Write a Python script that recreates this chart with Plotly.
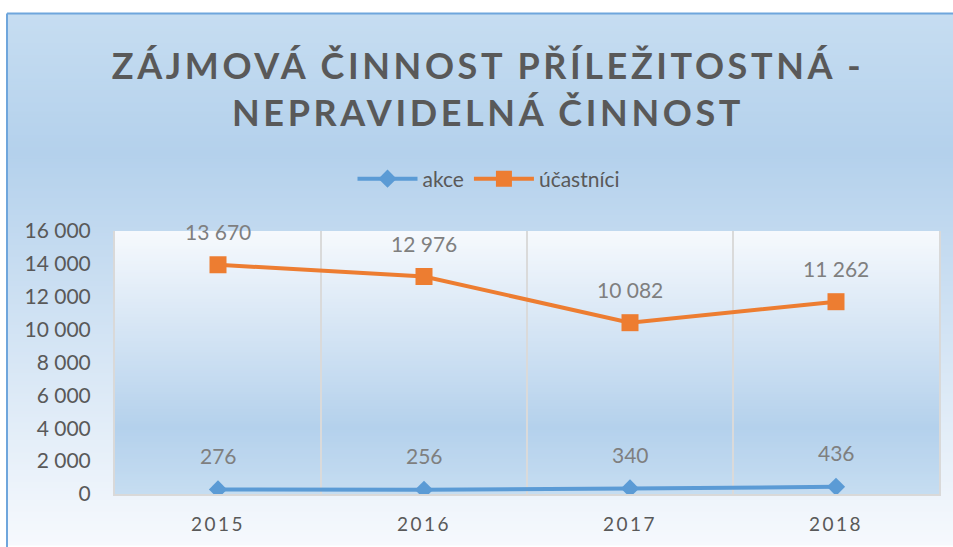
import plotly.graph_objects as go

# ---- data ----
years = ["2015", "2016", "2017", "2018"]
akce = [276, 256, 340, 436]
ucastnici = [13670, 12976, 10082, 11262]
y_ticks = [0, 2000, 4000, 6000, 8000, 10000, 12000, 14000, 16000]

title_text = "ZÁJMOVÁ ČINNOST PŘÍLEŽITOSTNÁ -<br>NEPRAVIDELNÁ ČINNOST"

W, H = 953, 547
L, R, T, B = 115, 939, 231, 497  # plot area in pixels

BLUE = "#5b9bd5"
ORANGE = "#ed7d31"
TXT = "#595959"
LBL = "#7f7f7f"
FONT = "Lato"


def fmt(v):
    return f"{v:,}".replace(",", " ")


def px_x(px):
    return (px - L) / (R - L)


def px_y(py):
    return (B - py) / (B - T)


stops = [(0.0, (246, 249, 253)), (0.74, (180, 209, 236)), (1.0, (198, 221, 241))]


def grad(t):
    for (t0, c0), (t1, c1) in zip(stops[:-1], stops[1:]):
        if t <= t1:
            f = (t - t0) / (t1 - t0)
            return "rgb(%d,%d,%d)" % tuple(round(a + (b - a) * f) for a, b in zip(c0, c1))
    return "rgb(%d,%d,%d)" % stops[-1][1]


shapes = []
# chart (paper) background gradient: darkest near top, lightest at bottom
top_bg, bot_bg = 11, 547
step = 3
y = top_bg
while y < bot_bg:
    t = 1 - (y - top_bg) / (bot_bg - top_bg)
    shapes.append(dict(type="rect", xref="paper", yref="paper", layer="below",
                       x0=px_x(7), x1=px_x(W + 5), y0=px_y(min(y + step + 1, bot_bg + 2)), y1=px_y(y),
                       fillcolor=grad(t), line=dict(width=0)))
    y += step
# plot area gradient: light at top, darker towards bottom
y = T
while y < B:
    t = (y - T) / (B - T)
    shapes.append(dict(type="rect", xref="paper", yref="paper", layer="below",
                       x0=0, x1=1, y0=px_y(min(y + step + 1, B)), y1=px_y(y),
                       fillcolor=grad(t), line=dict(width=0)))
    y += step
# chart border (top and left)
shapes.append(dict(type="line", xref="paper", yref="paper", layer="above",
                   x0=px_x(7), x1=px_x(W + 5), y0=px_y(11), y1=px_y(11),
                   line=dict(color="#6fa6dc", width=2)))
shapes.append(dict(type="line", xref="paper", yref="paper", layer="above",
                   x0=px_x(7), x1=px_x(7), y0=px_y(11), y1=px_y(H + 5),
                   line=dict(color="#6fa6dc", width=2)))

fig = go.Figure()
fig.add_trace(go.Scatter(
    x=years, y=akce, name="akce", mode="lines+markers", stackgroup="one", fill="none",
    line=dict(color=BLUE, width=4), marker=dict(symbol="diamond", size=14, color=BLUE),
))
fig.add_trace(go.Scatter(
    x=years, y=ucastnici, name="účastníci", mode="lines+markers", stackgroup="one", fill="none",
    line=dict(color=ORANGE, width=4), marker=dict(symbol="square", size=17, color=ORANGE),
))

annotations = []
for i, yr in enumerate(years):
    annotations.append(dict(x=i, y=akce[i], text=fmt(akce[i]), showarrow=False,
                            yshift=34, font=dict(family=FONT, size=21, color=LBL)))
    annotations.append(dict(x=i, y=akce[i] + ucastnici[i], text=fmt(ucastnici[i]), showarrow=False,
                            yshift=33, font=dict(family=FONT, size=21, color=LBL)))

fig.update_layout(
    width=W, height=H,
    margin=dict(l=L, r=W - R, t=T, b=H - B, pad=0),
    paper_bgcolor="white",
    plot_bgcolor="rgba(0,0,0,0)",
    separators=", ",
    shapes=shapes,
    annotations=annotations,
    title=dict(text=title_text, x=488 / W, xref="container", xanchor="center",
               y=1 - 79 / H, yref="container", yanchor="middle",
               font=dict(family=FONT, size=36, color=TXT, weight="bold")),
    legend=dict(orientation="h", xref="container", yref="container",
                x=489 / W, xanchor="center", y=1 - 179 / H, yanchor="middle",
                font=dict(family=FONT, size=21, color=TXT), bgcolor="rgba(0,0,0,0)",
                traceorder="normal", itemwidth=60),
    xaxis=dict(type="category", categoryorder="array", categoryarray=years,
               range=[-0.5, 3.5], tickson="boundaries", ticks="",
               showgrid=True, gridcolor="#dadada", gridwidth=1.5,
               showline=True, linecolor="#d9d9d9", linewidth=2,
               tickfont=dict(family=FONT, size=19, color=TXT), ticklabelstandoff=12),
    yaxis=dict(range=[0, 16000], tickvals=y_ticks, tickformat=",d",
               showgrid=False, zeroline=False, ticks="",
               showline=True, mirror=True, linecolor="#d9d9d9", linewidth=2,
               tickfont=dict(family=FONT, size=21, color=TXT), ticklabelstandoff=18),
    showlegend=True,
)

post = """
document.body.style.margin = '0px';
document.body.style.overflow = 'hidden';
var gd = document.getElementById('{plot_id}');
function sp(){
  gd.querySelectorAll('.gtitle').forEach(function(e){e.style.letterSpacing='3.6px';});
  gd.querySelectorAll('.xtick text').forEach(function(e){e.style.letterSpacing='2.5px';});
}
sp();
gd.on('plotly_afterplot', sp);
"""

fig.write_html("out.html", post_script=post, config={"displayModeBar": False})
